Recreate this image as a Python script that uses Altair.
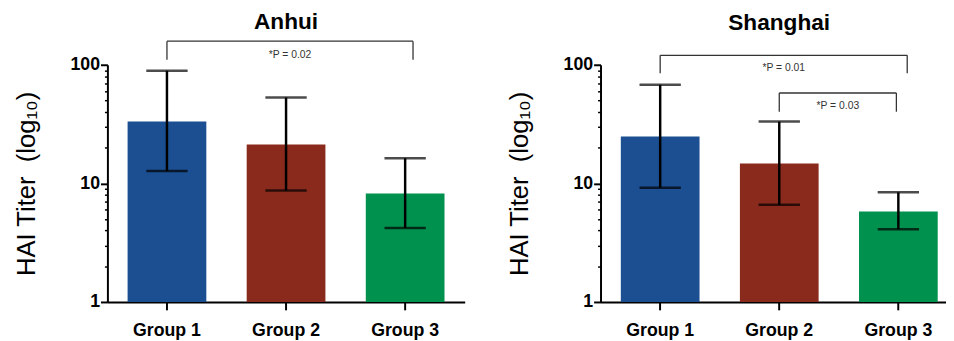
import altair as alt
import pandas as pd

groups = ["Group 1", "Group 2", "Group 3"]
bar_colors = ["#1b4f91", "#8a2a1c", "#00914f"]

anhui_mean = [33.2, 21.3, 8.2]
anhui_low = [12.7, 8.7, 4.2]
anhui_high = [89.0, 53.0, 16.3]

shanghai_mean = [24.9, 14.7, 5.8]
shanghai_low = [9.2, 6.6, 4.1]
shanghai_high = [67.8, 33.2, 8.4]

anhui_sig_from = ["Group 1"]
anhui_sig_to = ["Group 3"]
anhui_sig_top = [158.0]
anhui_sig_leg = [110.0]
anhui_sig_label = ["*P = 0.02"]
anhui_sig_label_y = [121.0]

shanghai_sig_from = ["Group 1", "Group 2"]
shanghai_sig_to = ["Group 3", "Group 3"]
shanghai_sig_top = [120.0, 57.8]
shanghai_sig_leg = [84.7, 40.2]
shanghai_sig_label = ["*P = 0.01", "*P = 0.03"]
shanghai_sig_label_y = [93.2, 44.8]

y_major = [1, 10, 100]
y_ticks = [1, 2, 3, 4, 5, 6, 7, 8, 9, 10, 20, 30, 40, 50, 60, 70, 80, 90, 100]
y_title = "HAI Titer\u00a0 (log\u2081\u2080)"

# style
STEP = 121
FONT = "Liberation Sans"
anhui_nudge = [8]
shanghai_nudge = [9, -2]

major_test = " || ".join(f"datum.value == {v}" for v in y_major)


def panel(title, mean, low, high, sfrom, sto, stop, sleg, slabel, sly, nudges,
          width, pad_outer, align, title_dx, title_offset):
    df = pd.DataFrame({"group": groups, "mean": mean, "low": low, "high": high})
    xscale = alt.Scale(domain=groups, paddingInner=0.339, paddingOuter=pad_outer, align=align)
    yscale = alt.Scale(type="log", domain=[1, 100], nice=False)
    xenc = alt.X("group:N", scale=xscale, sort=groups, title=None,
                 axis=alt.Axis(labelAngle=0, labelFont=FONT, labelFontWeight="bold",
                               labelFontSize=18, labelColor="black", labelPadding=12,
                               tickSize=8, tickWidth=2, tickColor="black",
                               domainWidth=2, domainColor="black", grid=False))
    yaxis = alt.Axis(values=y_ticks, format="d",
                     labelExpr=f"({major_test}) ? datum.label : ''",
                     labelFont=FONT, labelFontWeight="bold", labelFontSize=18,
                     labelColor="black", labelPadding=1, labelOverlap=False,
                     tickSize={"condition": {"test": major_test, "value": 7}, "value": 3},
                     tickWidth={"condition": {"test": major_test, "value": 2}, "value": 1.5},
                     tickColor="black", domainWidth=2, domainColor="black", grid=False,
                     title=y_title, titleFont=FONT,
                     titleFontSize=26, titleFontWeight="normal", titleColor="black",
                     titlePadding=31)
    base = alt.Chart(df)
    bars = base.mark_bar().encode(
        x=xenc,
        y=alt.Y("mean:Q", scale=yscale, axis=yaxis),
        y2=alt.datum(1),
        color=alt.Color("group:N", scale=alt.Scale(domain=groups, range=bar_colors), legend=None),
    )
    err = base.mark_rule(color="black", strokeWidth=2.5).encode(
        x=alt.X("group:N", sort=groups), y="low:Q", y2="high:Q")
    cap_lo = base.mark_tick(color="black", thickness=2.5, size=42).encode(
        x=alt.X("group:N", sort=groups), y="low:Q")
    cap_hi = base.mark_tick(color="black", thickness=2.5, size=42).encode(
        x=alt.X("group:N", sort=groups), y="high:Q")
    layers = [bars, err, cap_lo, cap_hi]
    for i in range(len(sfrom)):
        sdf = pd.DataFrame({"from": [sfrom[i]], "to": [sto[i]], "top": [stop[i]],
                            "leg": [sleg[i]], "label": [slabel[i]], "ly": [sly[i]]})
        nudge = nudges[i]
        sb = alt.Chart(sdf)
        span = groups.index(sto[i]) - groups.index(sfrom[i])
        layers.append(sb.mark_rule(color="#333333", strokeWidth=1.3, x2Offset=nudge).encode(
            x=alt.X("from:N", sort=groups), x2="to:N", y="top:Q"))
        layers.append(sb.mark_rule(color="#333333", strokeWidth=1.3).encode(
            x=alt.X("from:N", sort=groups), y="top:Q", y2="leg:Q"))
        layers.append(sb.mark_rule(color="#333333", strokeWidth=1.3, xOffset=nudge).encode(
            x=alt.X("to:N", sort=groups), y="top:Q", y2="leg:Q"))
        layers.append(sb.mark_text(font=FONT, fontSize=10.5, color="#333333",
                                   baseline="middle", align="center",
                                   xOffset=span * STEP / 2 + nudge / 2).encode(
            x=alt.X("from:N", sort=groups), y="ly:Q", text="label:N"))
    return alt.layer(*layers).properties(
        width=width, height=241,
        title=alt.TitleParams(title, font=FONT, fontSize=23, fontWeight="bold",
                              color="black", anchor="middle", dx=title_dx, offset=title_offset),
    )


left = panel("Anhui", anhui_mean, anhui_low, anhui_high, anhui_sig_from, anhui_sig_to,
             anhui_sig_top, anhui_sig_leg, anhui_sig_label, anhui_sig_label_y, anhui_nudge,
             363, 0.1695, 0.5, 0, 7)
right = panel("Shanghai", shanghai_mean, shanghai_low, shanghai_high, shanghai_sig_from,
              shanghai_sig_to, shanghai_sig_top, shanghai_sig_leg, shanghai_sig_label,
              shanghai_sig_label_y, shanghai_nudge, 351, 0.12, 0.71, 6, 20)

chart = alt.hconcat(left, right, spacing=42).properties(
    padding={"left": 5, "top": 0, "right": 0, "bottom": 0}
).configure_view(stroke=None)

chart.save("out.html", embed_options={"renderer": "svg", "actions": False})
